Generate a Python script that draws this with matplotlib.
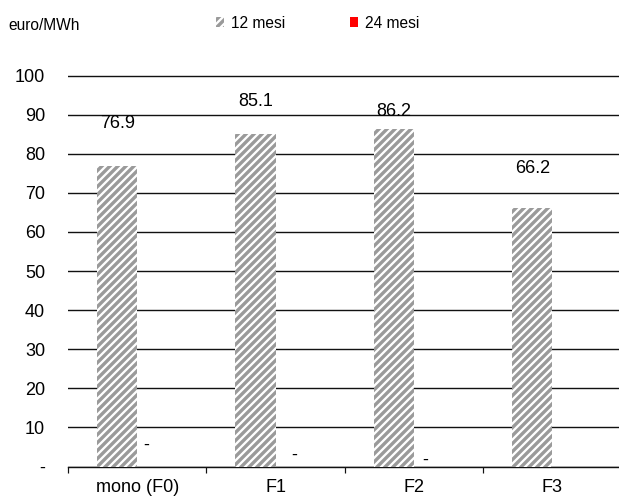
import matplotlib
matplotlib.use("Agg")
import matplotlib.pyplot as plt
import numpy as np

# Data
categories = ["mono (F0)", "F1", "F2", "F3"]
series_names = ["12 mesi", "24 mesi"]
values_12 = [76.9, 85.1, 86.2, 66.2]
values_24 = [0.0, 0.0, 0.0]
y_ticks = [0, 10, 20, 30, 40, 50, 60, 70, 80, 90, 100]
y_tick_labels = ["-", "10", "20", "30", "40", "50", "60", "70", "80", "90", "100"]

# Where each value label sits (data y for 12 mesi labels, x/y for the dash labels)
label_y_12 = [87.7, 93.4, 90.7, 76.3]
dash_dx = [0.064, 0.133, 0.079]
dash_y = [5.3, 2.9, 1.5]

plt.rcParams["font.family"] = ["Liberation Sans", "DejaVu Sans"]
plt.rcParams["hatch.linewidth"] = 2.3

W, H = 619, 497
DPI = 72
fig = plt.figure(figsize=(W / DPI, H / DPI), dpi=DPI)

# axes placement in pixels
left_px, right_px = 68, 621.6
y0_px, y100_px = 466.5, 75.5
ymax = 101.0
px_per_unit = (y0_px - y100_px) / 100.0
ax = fig.add_axes([left_px / W, (H - y0_px) / H,
                   (right_px - left_px) / W, ymax * px_per_unit / H])

x = np.arange(len(categories))
bw = 0.29
gray = "#9a9a9a"

bars12 = ax.bar(x - bw / 2, values_12, width=bw, color=gray, hatch="///",
                edgecolor="white", linewidth=0, zorder=3, label=series_names[0])
bars24 = ax.bar(x[:len(values_24)] + bw / 2, values_24, width=bw, color="#ff0000",
                linewidth=0, zorder=3, label=series_names[1])

fs = 18
for xi, v, ly in zip(x, values_12, label_y_12):
    ax.text(xi - bw / 2, ly, f"{v:.1f}", ha="center", va="center", fontsize=fs, zorder=4)
for xi, v, dx, dy in zip(x, values_24, dash_dx, dash_y):
    ax.text(xi + dx, dy, "-" if v == 0 else f"{v:.1f}", ha="center", va="center",
            fontsize=fs, zorder=4)

ax.set_xlim(-0.5, len(categories) - 0.5)
ax.set_ylim(0, ymax)
ax.set_yticks(y_ticks)
ax.set_yticklabels(y_tick_labels, fontsize=fs)
ax.tick_params(axis="y", length=0, pad=23)
ax.yaxis.grid(True, color="#111111", linewidth=1.4, zorder=1)
ax.set_axisbelow(True)

ax.set_xticks(x)
ax.set_xticklabels(categories, fontsize=fs)
ax.set_xticks(np.arange(-0.5, len(categories), 1.0), minor=True)
ax.tick_params(axis="x", which="major", length=0, pad=13)
ax.tick_params(axis="x", which="minor", length=6, width=1.2, direction="out", color="#111111")

for s in ("left", "right", "top"):
    ax.spines[s].set_visible(False)
ax.spines["bottom"].set_color("#111111")
ax.spines["bottom"].set_linewidth(1.4)

fig.text(8 / W, 1 - 25 / H, "euro/MWh", fontsize=15.5, ha="left", va="center")

fig.legend(handles=[bars12, bars24], labels=series_names, loc="center left",
           bbox_to_anchor=(216 / W, 1 - 23 / H), ncol=2, frameon=False,
           fontsize=15.5, handlelength=0.5, handleheight=0.55,
           handletextpad=0.45, columnspacing=4.2, borderpad=0, borderaxespad=0)

fig.savefig("out.png", dpi=DPI)
